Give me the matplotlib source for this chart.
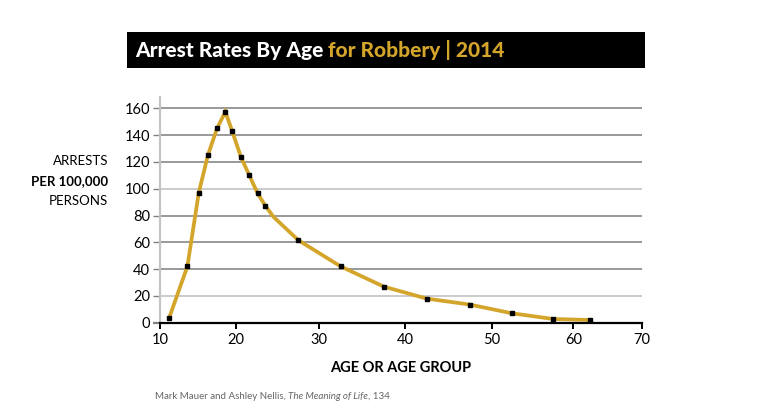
import numpy as np
import matplotlib
matplotlib.use("Agg")
import matplotlib.pyplot as plt
from matplotlib.patches import Rectangle
from matplotlib.text import Annotation

plt.rcParams['font.family'] = ['Lato', 'DejaVu Sans']

# ---- data ----
ages = [11.2, 13.6, 15.1, 16.3, 17.5, 18.6, 19.5, 20.6, 21.6, 22.6, 23.5, 24.5,
        27.5, 32.5, 37.5, 42.5, 47.5, 52.5, 57.5, 62.5]
rates = [3.5, 42, 97, 125, 145, 157.5, 143, 123.5, 110, 96.5, 87.5, 79,
         61.5, 42, 27, 18, 13.5, 7, 2.8, 2.0]
marked = [True] * 11 + [False] + [True] * 8

x_ticks = [10, 20, 30, 40, 50, 60, 70]
y_ticks = [0, 20, 40, 60, 80, 100, 120, 140, 160]

title_white = "Arrest Rates By Age "
title_gold = "for Robbery | 2014"
x_label = "AGE OR AGE GROUP"
y_label = ["ARRESTS", "PER 100,000", "PERSONS"]
source = ["Mark Mauer and Ashley Nellis, ", "The Meaning of Life", ", 134"]

GOLD = "#D4A52B"

# irregular spacing of the original x axis (tick position in pixels)
tick_px = np.array([160, 236, 319.3, 405, 491.7, 573.3, 641.7])
tick_v = np.array(x_ticks, dtype=float)


def fwd(x):
    x = np.asarray(x, dtype=float)
    y = np.interp(x, tick_v, tick_px)
    lo = x < tick_v[0]
    hi = x > tick_v[-1]
    y = np.where(lo, tick_px[0] + (x - tick_v[0]) * (tick_px[1] - tick_px[0]) / 10, y)
    y = np.where(hi, tick_px[-1] + (x - tick_v[-1]) * (tick_px[-1] - tick_px[-2]) / 10, y)
    return y


def inv(p):
    p = np.asarray(p, dtype=float)
    x = np.interp(p, tick_px, tick_v)
    lo = p < tick_px[0]
    hi = p > tick_px[-1]
    x = np.where(lo, tick_v[0] + (p - tick_px[0]) * 10 / (tick_px[1] - tick_px[0]), x)
    x = np.where(hi, tick_v[-1] + (p - tick_px[-1]) * 10 / (tick_px[-1] - tick_px[-2]), x)
    return x


W, H = 760, 420
fig = plt.figure(figsize=(7.6, 4.2), dpi=100)
fig.patch.set_facecolor("white")

ax_left, ax_right, ax_bottom, ax_top = 160, 641.7, 322.7, 97
ax = fig.add_axes([ax_left / W, 1 - ax_bottom / H, (ax_right - ax_left) / W, (ax_bottom - ax_top) / H])
ax.set_xscale('function', functions=(fwd, inv))
ax.set_xlim(10, 70)
ax.set_ylim(0, (ax_bottom - ax_top) / 1.3394)

ax.plot(ages, rates, color=GOLD, lw=2.7, solid_joinstyle='miter', zorder=3, clip_on=False)
mx = [a for a, m in zip(ages, marked) if m]
my = [r for r, m in zip(rates, marked) if m]
ax.plot(mx, my, ls='none', marker='s', ms=3.3, color='black', zorder=4, clip_on=False)

ax.set_xticks(x_ticks)
ax.set_xticklabels([str(t) for t in x_ticks])
ax.set_yticks(y_ticks)
ax.set_yticklabels([str(t) for t in y_ticks])
ax.xaxis.set_minor_locator(matplotlib.ticker.NullLocator())

for s in ['top', 'right']:
    ax.spines[s].set_visible(False)
ax.spines['left'].set_color('#c4c4c4')
ax.spines['left'].set_linewidth(1.6)
ax.spines['bottom'].set_color('black')
ax.spines['bottom'].set_linewidth(1.6)
ax.spines['bottom'].set_zorder(5)

ax.tick_params(axis='x', direction='out', length=4.5, width=1.4, color='black',
               labelsize=10.5, pad=3, labelcolor='black')
ax.tick_params(axis='y', direction='out', length=5, width=1.0, color='#808080',
               labelsize=10.5, pad=2, labelcolor='black')

ax.yaxis.grid(True, lw=1.1)
ax.set_axisbelow(True)
light = {20, 100}
for t, gl, tk in zip(y_ticks, ax.yaxis.get_gridlines(), ax.yaxis.get_major_ticks()):
    c = '#bdbdbd' if t in light else '#7d7d7d'
    gl.set_color(c)
    tk.tick1line.set_color(c)
    if t == 0:
        gl.set_visible(False)
        tk.tick1line.set_color('black')
        tk.tick1line.set_markeredgewidth(1.6)

# x label
fig.text((ax_left + ax_right) / 2 / W, 1 - 368 / H, x_label, ha='center', va='center',
         fontsize=10.5, fontweight='bold', color='black')

# y label (three lines, middle one bold)
for i, (txt, yy) in enumerate(zip(y_label, [160.7, 181.5, 200.7])):
    fig.text(108 / W, 1 - yy / H, txt, ha='right', va='center', fontsize=9.5,
             fontweight='bold' if i == 1 else 'normal', color='black')

# title bar
fig.add_artist(Rectangle((127 / W, 1 - 68 / H), (645 - 127) / W, 36 / H,
                         transform=fig.transFigure, facecolor='black', edgecolor='none',
                         zorder=-1))
t1 = fig.text(135 / W, 1 - 50 / H, title_white, ha='left', va='center', fontsize=15,
              fontweight='black', color='white')
fig.add_artist(Annotation(title_gold, xy=(1, 0), xycoords=t1, ha='left', va='bottom',
                          fontsize=15, fontweight='black', color=GOLD,
                          annotation_clip=False))

# source
s1 = fig.text(155 / W, 1 - 396.5 / H, source[0], ha='left', va='center', fontsize=7, color='#666666')
s2 = Annotation(source[1], xy=(1, 0), xycoords=s1, ha='left', va='bottom', fontsize=7,
                color='#666666', style='italic', annotation_clip=False)
fig.add_artist(s2)
fig.add_artist(Annotation(source[2], xy=(1, 0), xycoords=s2, ha='left', va='bottom', fontsize=7,
                          color='#666666', annotation_clip=False))

fig.savefig("out.png", dpi=100)
